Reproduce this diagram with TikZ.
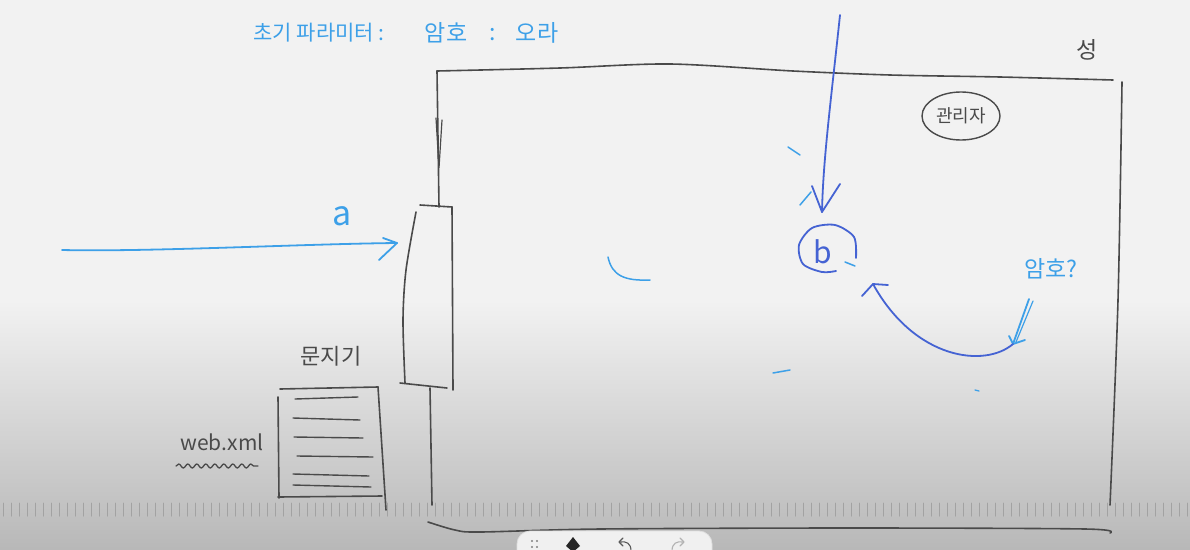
\documentclass[tikz,border=0pt]{standalone}
\usepackage{fontspec}
\newfontfamily\kr{Noto Sans CJK KR}
\usetikzlibrary{decorations.pathmorphing,shapes.geometric}
\definecolor{lb}{HTML}{3DA0E8}
\definecolor{db}{HTML}{4563D3}
\definecolor{ink}{HTML}{4A4A4A}
\definecolor{bgtop}{HTML}{F2F2F2}
\definecolor{bgbot}{HTML}{B8B8B8}
\definecolor{tick}{HTML}{A2A2A2}
\begin{document}
\begin{tikzpicture}[x=1pt,y=-1pt,line cap=round,line join=round,
  inkline/.style={draw=ink,line width=1.6pt},
  lbline/.style={draw=lb,line width=1.8pt},
  dbline/.style={draw=db,line width=1.8pt},
  lbtext/.style={text=lb,inner sep=0pt,font=\kr\fontsize{21}{21}\selectfont},
  inktext/.style={text=ink,inner sep=0pt,font=\kr\fontsize{20}{20}\selectfont}]
\useasboundingbox (0,0) rectangle (1190,549);
% background
\fill[bgtop] (0,0) rectangle (1190,549);
\shade[top color=bgtop,bottom color=bgbot] (0,300) rectangle (1190,549);
% ruler ticks
\foreach \i in {0,...,148} \draw[tick,line width=1pt] (3+8*\i,503) -- ++(0,13);

% ---- top text
\node[lbtext] (t1) at (319,33) {초기 파라미터 :};
\node[lbtext,font=\kr\fontsize{23}{23}\selectfont] (t2) at (446,33) {암호};
\node[lbtext,font=\kr\fontsize{23}{23}\selectfont] (t3) at (493,35) {:};
\node[lbtext,font=\kr\fontsize{23}{23}\selectfont] (t4) at (537,33) {오라};

% ---- main box
\draw[inkline] plot[smooth] coordinates {(437,71) (560,68) (670,64) (793,71) (890,75) (1000,77) (1113,80)};
\draw[inkline] plot[smooth] coordinates {(1122,82) (1118,300) (1110,505)};
\draw[inkline] (437,71) -- (439,207);
\draw[inkline,line width=1.2pt] (436,118) -- (439,168) -- (442,120);
% door
\draw[inkline] (420,205) -- (452,207);
\draw[inkline] plot[smooth] coordinates {(416,212) (406,270) (403,320) (405,383)};
\draw[inkline] (452,207) -- (453,390);
\draw[inkline] (400,383) -- (447,388);
\draw[inkline] (430,388) -- (432,505);
% bottom line
\draw[inkline] plot[smooth] coordinates {(428,522) (455,530) (480,532) (600,529) (850,528) (1085,529) (1110,533)};

% ---- 관리자 / 성
\node[ellipse,draw=ink,line width=1.4pt,minimum width=78pt,minimum height=48pt,inner sep=0pt,
      text=ink,font=\kr\fontsize{18}{18}\selectfont] (mgr) at (961,116) {관리자};
\node[inktext,font=\kr\fontsize{23}{23}\selectfont] (sung) at (1087,50) {성};

% ---- arrow a
\coordinate (astart) at (62,250);
\coordinate (atip) at (397,243);
\node[text=lb,inner sep=0pt,font=\kr\fontsize{34}{34}\selectfont] (alabel) at (342,216) {a};
\draw[lbline] (astart) .. controls (150,252) and (300,244) .. (atip);
\draw[lbline] (383,238) -- (atip) -- (379,260);

% ---- vertical arrow to b
\coordinate (vtop) at (840,15);
\coordinate (vtip) at (822,212);
\draw[dbline] (vtop) .. controls (831,100) and (823,160) .. (vtip);
\draw[dbline] (812,186) -- (vtip) -- (840,184);

% ---- b circled
\node[text=db,inner sep=0pt,font=\kr\fontsize{30}{30}\selectfont] (b) at (823,252) {b};
\draw[dbline] plot[smooth] coordinates {(856,258) (854,237) (835,225) (812,228) (799,245) (803,264) (822,272) (836,271)};

% ---- 암호? and curved arrow
\node[lbtext,font=\kr\fontsize{23}{23}\selectfont] (pw) at (1051,269) {암호?};
\coordinate (pwtail) at (1029,299);
\coordinate (c1) at (1013,344);
\coordinate (c2) at (873,284);
\draw[lbline] (pwtail) -- (c1);
\draw[lbline,line width=1.2pt] (1033,301) -- (1016,342);
\draw[lbline] (1009,336) -- (c1) -- (1025,340);
\draw[dbline] (c1) .. controls (985,368) and (915,360) .. (c2);
\draw[dbline] (862,296) -- (c2) -- (888,285);

% ---- stray marks
\draw[lbline,line width=1.5pt] (788,147) -- (800,155);
\draw[lbline,line width=1.5pt] (800,205) -- (811,192);
\draw[lbline,line width=1.5pt] (845,262) -- (855,266);
\draw[lbline,line width=1.5pt] (608,257) .. controls (612,276) and (625,281) .. (650,280);
\draw[lbline,line width=1.5pt] (773,373) -- (790,370);
\draw[lbline,line width=1.3pt] (975,390) -- (979,391);

% ---- 문지기 document
\node[inktext,font=\kr\fontsize{22}{22}\selectfont] (gate) at (331,356) {문지기};
\draw[inkline] (280,389) -- (378,387);
\draw[inkline] (278,397) -- (279,498);
\draw[inkline] (378,387) -- (386,510);
\draw[inkline] (278,497) -- (382,496);
\foreach \a/\b/\c/\d in {295/399/358/397, 293/418/360/420, 294/437/363/438, 297/456/373/457, 293/474/369/476, 293/485/371/487}
  \draw[inkline,line width=1.4pt] (\a,\b) -- (\c,\d);
\node[inktext,font=\kr\fontsize{21}{21}\selectfont] (web) at (222,442) {web.xml};
\draw[inkline,line width=1.3pt,decorate,decoration={snake,amplitude=2pt,segment length=9pt}] (176,466) -- (258,466);

% ---- toolbar
\draw[fill=white!88!gray,draw=white!75!gray,line width=0.8pt,rounded corners=13pt] (517,531) rectangle (712,570);
\foreach \dx/\dy in {0/0,5/0,0/6,5/6} \fill[gray] (532+\dx,541+\dy) circle (1.1pt);
\fill[black!85] (573,537) -- (580,546) -- (573,552) -- (566,546) -- cycle;
\draw[black!65,line width=1.1pt] (631,551) .. controls (631,543) and (626,541) .. (620,542);
\draw[black!65,line width=1.1pt] (623,538) -- (619,542) -- (623,546);
\draw[black!30,line width=1.1pt] (672,551) .. controls (672,543) and (677,541) .. (683,542);
\draw[black!30,line width=1.1pt] (680,538) -- (684,542) -- (680,546);
\end{tikzpicture}
\end{document}
